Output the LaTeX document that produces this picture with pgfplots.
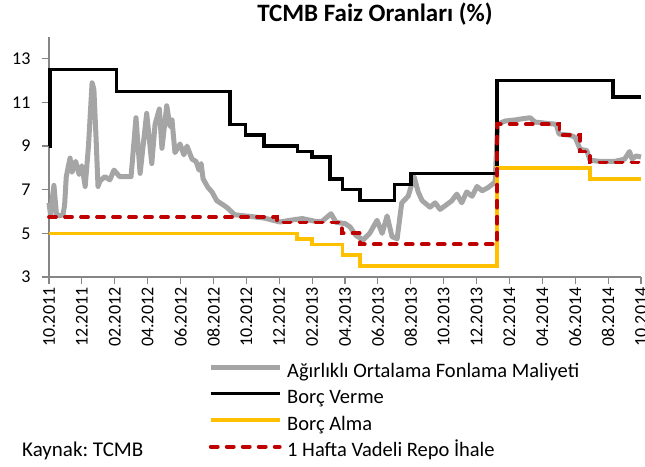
\documentclass[border=0pt]{standalone}
\usepackage{pgfplots}
\pgfplotsset{compat=1.18}
\usepackage{fontspec}
\setmainfont{Carlito}

\definecolor{fongray}{HTML}{A5A5A5}
\definecolor{almayel}{HTML}{FFC000}
\definecolor{repored}{HTML}{C00000}
\definecolor{axgray}{HTML}{868686}

\begin{document}
\frenchspacing
\begin{tikzpicture}
\path[use as bounding box] (0pt,0pt) rectangle (645pt,-466pt);
\begin{axis}[
  at={(49pt,-277pt)}, anchor=south west,
  scale only axis, width=592pt, height=240pt,
  xmin=0, xmax=36, ymin=3, ymax=14,
  ytick={3,5,7,9,11,13},
  xtick={0,2,...,36},
  xticklabels={10.2011,12.2011,02.2012,04.2012,06.2012,08.2012,10.2012,12.2012,02.2013,04.2013,06.2013,08.2013,10.2013,12.2013,02.2014,04.2014,06.2014,08.2014,10.2014},
  axis lines*=left,
  axis line style={axgray, line width=1.2pt},
  tick align=outside, major tick length=7pt,
  tick style={axgray, line width=1.2pt},
  /pgf/number format/assume math mode=true,
  tick label style={font=\fontsize{18}{20}\selectfont},
  xticklabel style={rotate=90, anchor=east},
  yticklabel style={xshift=-8pt},
  clip=false,
  legend style={at={(0.2686,-0.35)}, anchor=north west, draw=none, fill=none,
    inner sep=0pt, row sep=4.5pt,
    font=\fontsize{20.5}{24}\selectfont,
    nodes={inner sep=1pt, text height=15pt, text depth=5pt},
    cells={anchor=west}},
  legend image code/.code={\draw[#1] (0pt,5pt) -- (69pt,5pt); \path (73pt,5pt);},
]
% Ağırlıklı Ortalama Fonlama Maliyeti
\addplot[fongray, line width=5pt, line join=round] coordinates {
(0,6.4)(0.1,5.8)(0.2,6.6)(0.3,7.2)(0.45,5.9)(0.6,5.8)(0.85,5.85)(0.95,6.3)(1.05,7.6)
(1.28,8.45)(1.4,7.8)(1.62,8.3)(1.83,7.7)(2.0,8.1)(2.2,7.15)(2.4,9.0)(2.62,11.9)(2.73,11.6)
(2.86,9.4)(2.98,7.15)(3.1,7.4)(3.4,7.6)(3.7,7.45)(3.95,7.9)(4.3,7.6)(4.99,7.6)(5.29,10.3)
(5.54,7.75)(5.94,10.5)(6.25,8.2)(6.45,10.0)(6.71,10.7)(6.87,8.9)(7.16,10.85)(7.36,9.9)
(7.48,10.2)(7.66,8.7)(7.97,9.1)(8.2,8.6)(8.39,9.0)(8.7,8.4)(8.94,8.3)(9.12,7.9)(9.25,8.2)
(9.37,7.5)(9.67,7.1)(9.91,6.9)(10.2,6.5)(10.8,6.2)(11.3,5.85)(12.2,5.78)(13.1,5.7)
(14.05,5.52)(14.66,5.6)(15.4,5.68)(16.2,5.55)(16.6,5.55)(17.15,5.9)(17.46,5.5)(18.0,5.45)
(18.3,5.3)(18.67,4.9)(19.1,4.7)(19.5,5.0)(19.95,5.6)(20.26,5.0)(20.56,5.8)(20.86,4.85)
(21.17,4.75)(21.45,6.4)(21.84,6.7)(22.2,7.6)(22.45,6.9)(22.69,6.5)(23.17,6.2)(23.48,6.4)
(23.78,6.1)(24.15,6.3)(24.5,6.5)(24.8,6.8)(25.1,6.4)(25.4,6.9)(25.73,6.7)(26.03,7.15)
(26.34,6.95)(26.7,7.1)(27.13,7.35)(27.28,10.0)(27.74,10.15)(28.35,10.2)(28.77,10.25)
(29.26,10.3)(29.56,10.1)(30.2,10.05)(30.84,10.0)(31.02,9.55)(31.7,9.5)(32.0,9.4)(32.3,8.85)
(32.7,8.8)(32.9,8.35)(33.5,8.3)(34.4,8.3)(35.0,8.4)(35.3,8.75)(35.46,8.4)(35.7,8.55)(36.0,8.5)
};
\addlegendentry{Ağırlıklı Ortalama Fonlama Maliyeti}
% Borç Verme
\addplot[black, line width=3.5pt] coordinates {
(0,9)(0.06,9)(0.06,12.5)(4.1,12.5)(4.1,11.5)(11.0,11.5)(11.0,10)(11.96,10)(11.96,9.5)
(13.08,9.5)(13.08,9)(15.1,9)(15.1,8.75)(16.0,8.75)(16.0,8.5)(17.1,8.5)(17.1,7.5)
(17.86,7.5)(17.86,7)(18.9,7)(18.9,6.5)(21.0,6.5)(21.0,7.25)(22.0,7.25)(22.0,7.75)
(27.25,7.75)(27.25,12)(34.3,12)(34.3,11.25)(36,11.25)
};
\addlegendentry{Borç Verme}
% Borç Alma
\addplot[almayel, line width=3.5pt] coordinates {
(0,5)(15.07,5)(15.07,4.75)(16.0,4.75)(16.0,4.5)(17.86,4.5)(17.86,4)(18.9,4)(18.9,3.5)
(27.25,3.5)(27.25,8)(32.9,8)(32.9,7.5)(36,7.5)
};
\addlegendentry{Borç Alma}
% 1 Hafta Vadeli Repo
\addplot[repored, line width=3.8pt, line cap=round, dash pattern=on 7pt off 9pt] coordinates {
(0,5.75)(13.85,5.75)(13.85,5.5)(17.8,5.5)(17.8,5)(18.9,5)(18.9,4.5)(27.25,4.5)(27.25,10)
(31.04,10)(31.04,9.5)(32.3,9.5)(32.3,8.75)(32.9,8.75)(32.9,8.25)(36,8.25)
};
\addlegendentry{1 Hafta Vadeli Repo İhale}
\end{axis}
\node[font=\bfseries\fontsize{25}{28}\selectfont] at (375pt,-14pt) {TCMB Faiz Oranları (\%)};
\node[anchor=base west, inner sep=0pt, font=\fontsize{21}{24}\selectfont] at (22pt,-456pt) {Kaynak: TCMB};
\end{tikzpicture}
\end{document}
